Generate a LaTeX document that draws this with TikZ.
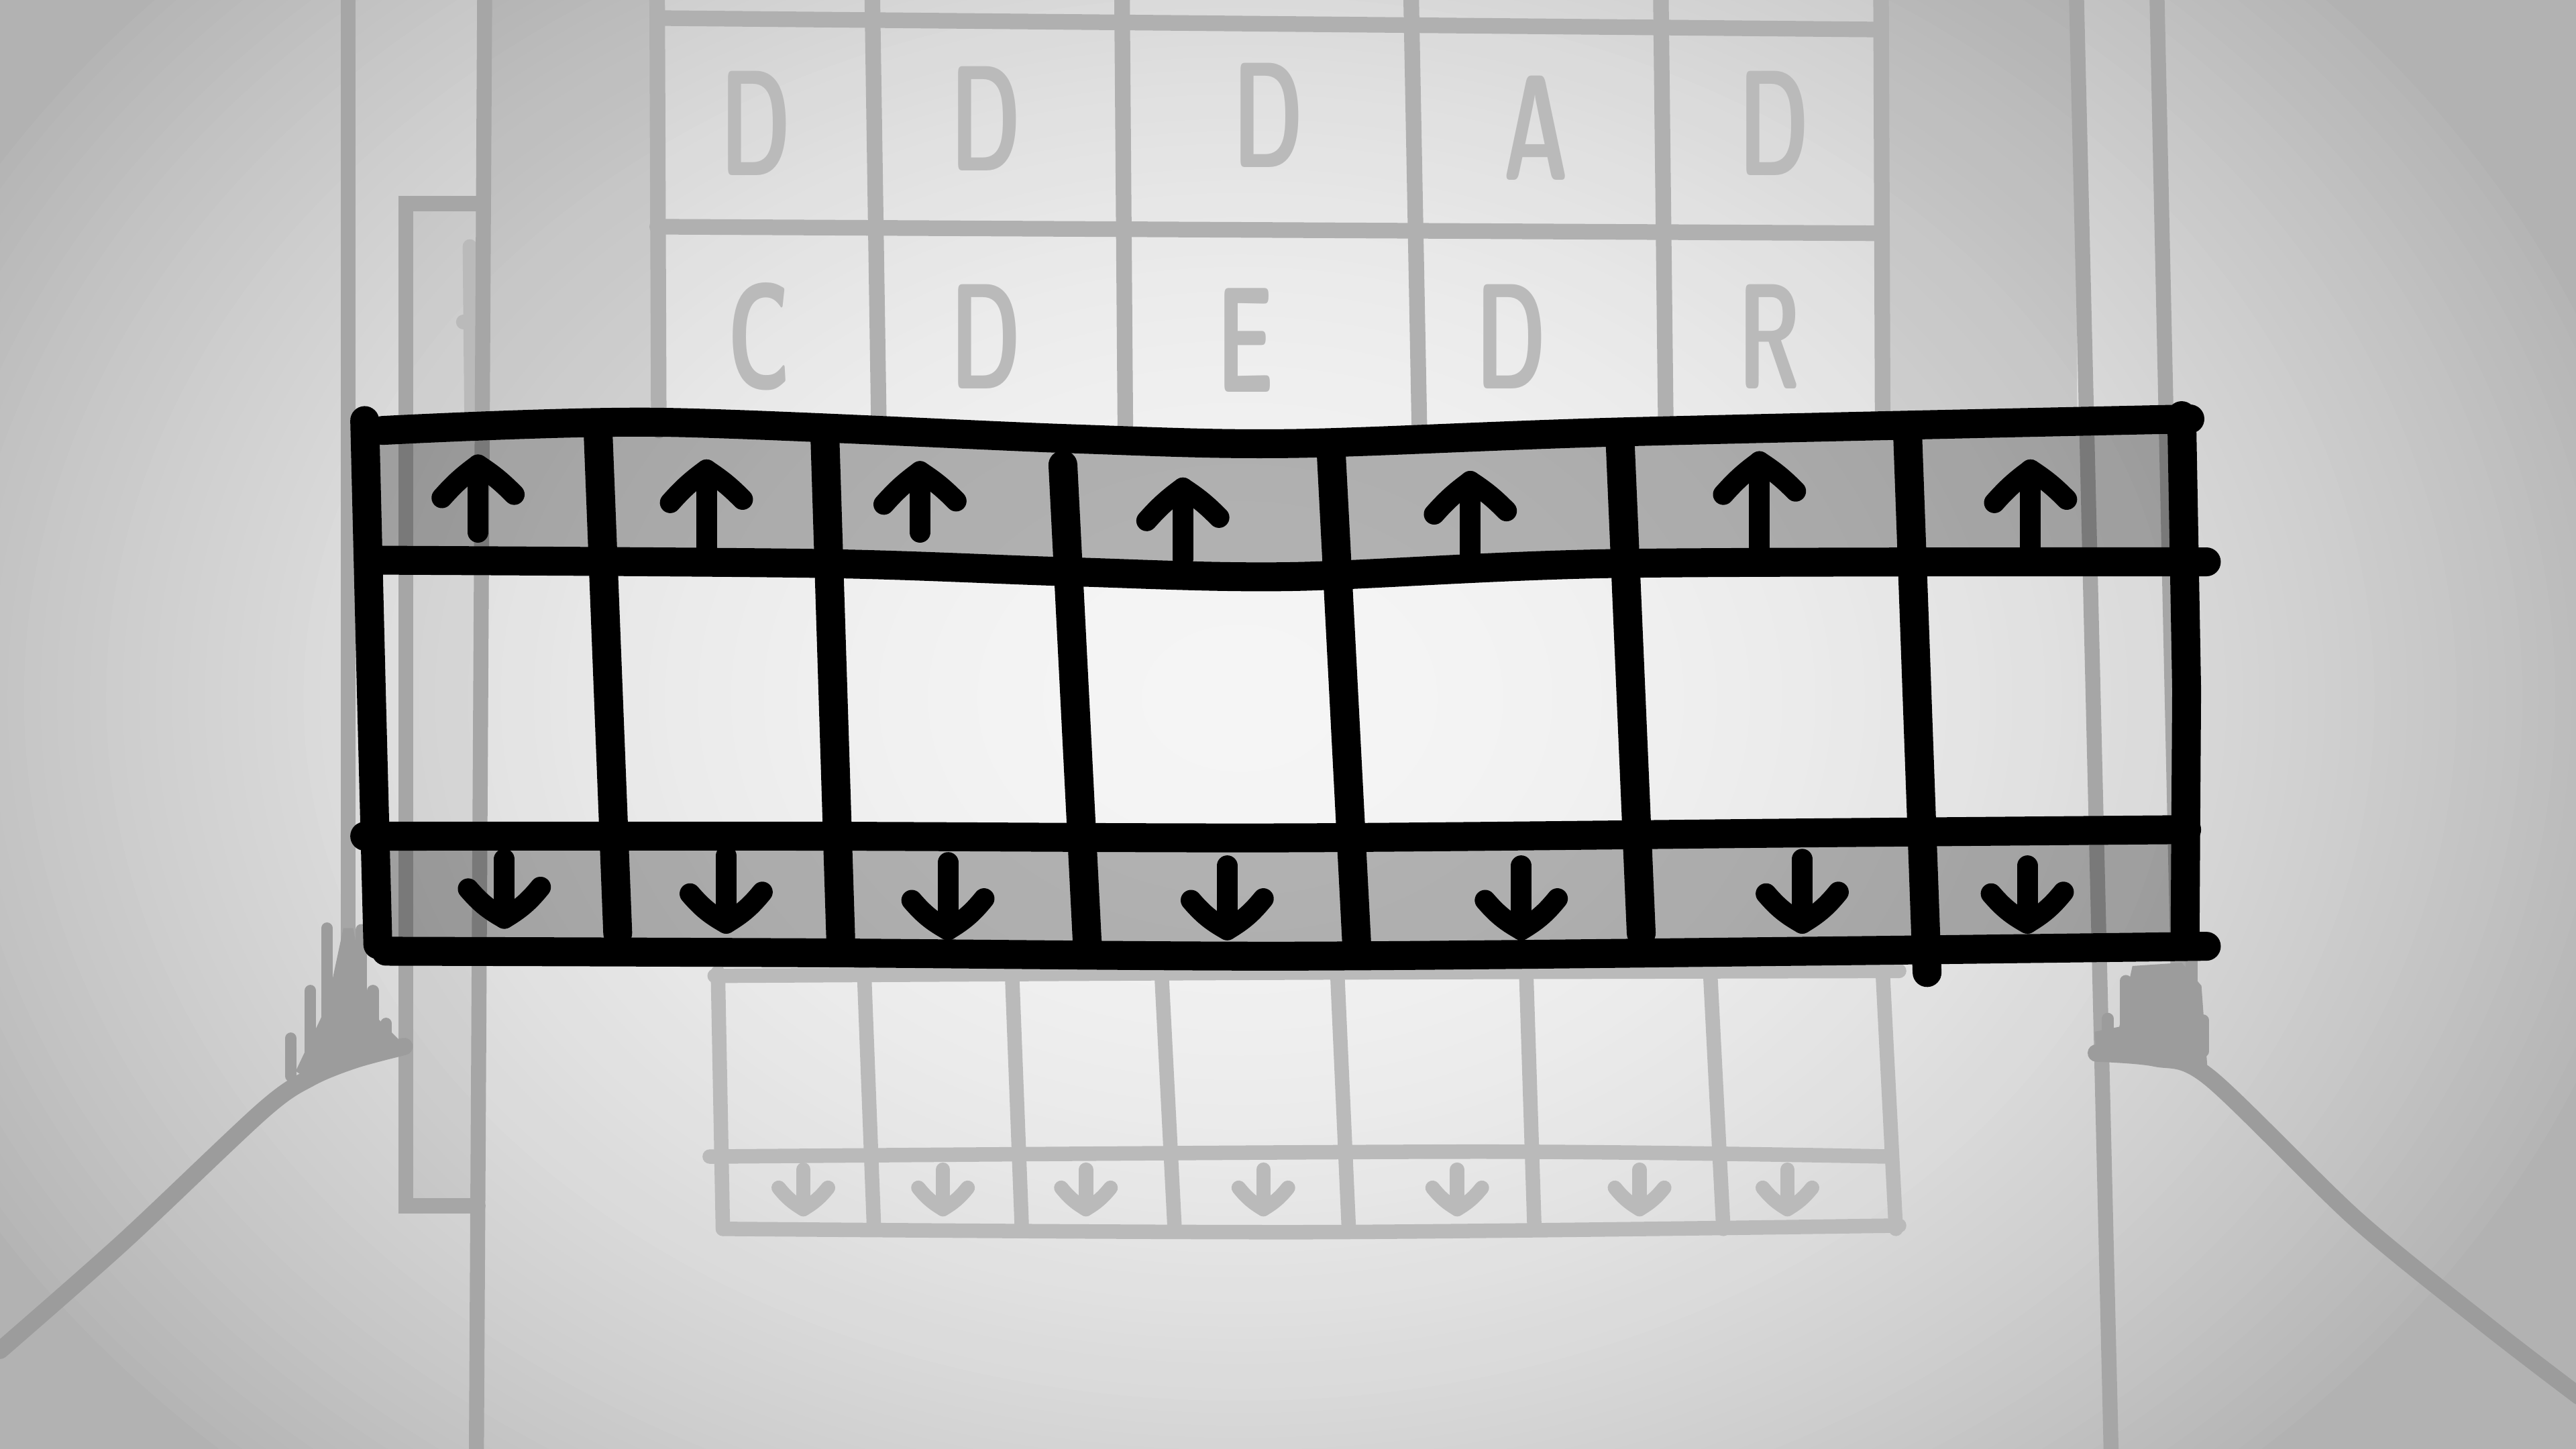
\documentclass[tikz,border=0pt]{standalone}
\usepackage{xcolor}
\usepackage{graphicx}
\usepackage{tikz}

\begin{document}
\begin{tikzpicture}[x=0.01cm, y=-0.01cm,
  ink/.style={line width=5pt, line cap=round, line join=round, color=black},
  pen/.style={line width=3.6pt, line cap=round, line join=round, color=black},
  faint/.style={line width=2.7pt, line cap=round, line join=round, color=black!31},
  fainter/.style={line width=2.5pt, line cap=round, line join=round, color=black!27},
  wall/.style={line width=2.6pt, line cap=round, color=black!35},
  floor/.style={line width=3pt, line cap=round, line join=round, color=black!39},
  letter/.style={text=black!27, font=\sffamily\bfseries\fontsize{26}{26}\selectfont, inner sep=0pt}]
\useasboundingbox (0,0) rectangle (1568,882);
\begin{scope}
\clip (0,0) rectangle (1568,882);
\fill[black!30] (0,0) rectangle (1568,882);
\foreach \i in {0,...,85}{
\pgfmathsetmacro\rx{(870-10*\i)/100}
\pgfmathsetmacro\ry{0.75*\rx}
\pgfmathsetmacro\shadepct{min(30,4+0.33*\rx*\rx)}
\fill[black!\shadepct] (755,425) ellipse[x radius=\rx cm, y radius=\ry cm];
}
\end{scope}
\fill[black, opacity=0.09] (297,0) rectangle (397,262);
\fill[black, opacity=0.09] (1147,0) rectangle (1264,262);
\fill[black, opacity=0.05] (247,124) rectangle (291,734);
\draw[wall] (291,124) -- (247,124) -- (247,734) -- (291,734);
\draw[fainter] (286,150) -- (287,252);
\draw[fainter] (282,196) -- (289,196);
\draw[wall] (212,0) -- (212,630);
\draw[wall] (295,0) -- (290,882);
\draw[wall] (1264,0) -- (1285,882);
\draw[wall] (1313,0) -- (1326,600);
\draw[floor] plot[smooth] coordinates {(246,637) (216,645) (189,656) (160,676) (75,756) (0,822)};
\draw[floor] plot[smooth] coordinates {(1276,641) (1312,644) (1345,656) (1434,742) (1514,807) (1570,850)};
\fill[black!39] (180,652) -- (199,612) -- (209,565) -- (215,565) -- (224,614) -- (244,634) -- (246,641) -- (216,647) -- (189,658) -- cycle;
\foreach \x/\t/\b in {177/632/655, 189/603/650, 199/565/630, 220/566/630, 227/603/640, 235/623/640}\draw[floor, line width=2pt] (\x,\b) -- (\x,\t);
\fill[black!39] (1275,628) -- (1290,625) -- (1298,588) -- (1328,586) -- (1340,600) -- (1344,655) -- (1312,646) -- (1276,643) -- cycle;
\foreach \x/\t/\b in {1283/620/630, 1294/597/625, 1334/585/640, 1341/621/640}\draw[floor, line width=2pt] (\x,\b) -- (\x,\t);
\foreach \x/\xb in {400/401, 531/535, 683/685, 859/864, 1011/1014, 1145/1146}\draw[faint] (\x,0) -- (\xb,262);
\draw[faint] (400,11) -- (1145,18);
\draw[faint] (400,138) -- (1145,142);
\foreach \ch/\x/\y [count=\i] in {D/460/75, D/600/72, D/772/70, A/935/78, D/1080/75, C/462/205, D/600/205, E/758/207, D/920/205, R/1077/205}\node[letter] (letter\i) at (\x,\y) {\scalebox{0.6}[1]{\ch}};
\foreach \x/\xb in {437/440, 526/532, 616/622, 707/715, 814/821, 929/934, 1041/1049, 1146/1154}\draw[fainter] (\x,592) -- (\xb,748);
\draw[fainter] plot[smooth] coordinates {(435,594) (800,592) (1156,591)};
\draw[fainter] plot[smooth] coordinates {(432,704) (900,701) (1150,704)};
\draw[fainter] plot[smooth] coordinates {(440,748) (800,750) (1156,746)};
\foreach \x in {489, 574, 661, 769, 887, 998, 1088}{
\draw[fainter] (\x,712) -- (\x,736);
\draw[fainter] (\x-15,723) to[bend right=10] (\x,736) to[bend right=10] (\x+15,723);
}
\fill[black, opacity=0.27] plot[smooth] coordinates {(226,262) (400,257) (650,267) (784,270) (984,263) (1329,255)} -- plot[smooth] coordinates {(1329,342) (984,343) (784,351) (650,348) (500,343) (226,341)} -- cycle;
\fill[black, opacity=0.27] plot[smooth] coordinates {(224,509) (500,509) (784,510) (1100,507) (1330,505)} -- plot[smooth] coordinates {(1330,578) (1100,579) (784,582) (500,580) (230,579)} -- cycle;
\draw[ink] plot[smooth] coordinates {(233,262) (400,257) (650,267) (784,270) (984,263) (1333,255)};
\draw[ink] plot[smooth] coordinates {(233,341) (500,343) (650,348) (784,351) (984,343) (1343,342)};
\draw[ink] plot[smooth] coordinates {(222,509) (500,509) (784,510) (1100,507) (1331,505)};
\draw[ink] plot[smooth] coordinates {(235,579) (500,580) (784,582) (1100,579) (1343,576)};
\draw[ink] (222,256) -- (226,420) -- (230,575);
\draw[ink] (1328,253) -- (1331,420) -- (1330,576);
\foreach \xa/\ya/\xb/\yb in {364/262/376/568, 502/262/512/580, 647/283/662/578, 810/270/826/578, 986/265/999/568, 1161/260/1173/592}\draw[ink] (\xa,\ya) -- (\xb,\yb);
\foreach \x/\t/\b in {291/283/324, 430/286/335, 560/287/324, 720/297/340, 895/293/338, 1071/281/334, 1236/286/334}{
\draw[pen] (\x,\b) -- (\x,\t);
\draw[pen] (\x-22,\t+20) to[bend left=6] (\x,\t) to[bend left=6] (\x+22,\t+18);
}
\foreach \x/\t/\b in {307/523/559, 442/521/562, 577/525/566, 747/527/566, 926/527/566, 1097/523/562, 1234/527/562}{
\draw[pen] (\x,\t) -- (\x,\b);
\draw[pen] (\x-22,\b-18) to[bend right=10] (\x,\b) to[bend right=10] (\x+22,\b-19);
}
\end{tikzpicture}
\end{document}
